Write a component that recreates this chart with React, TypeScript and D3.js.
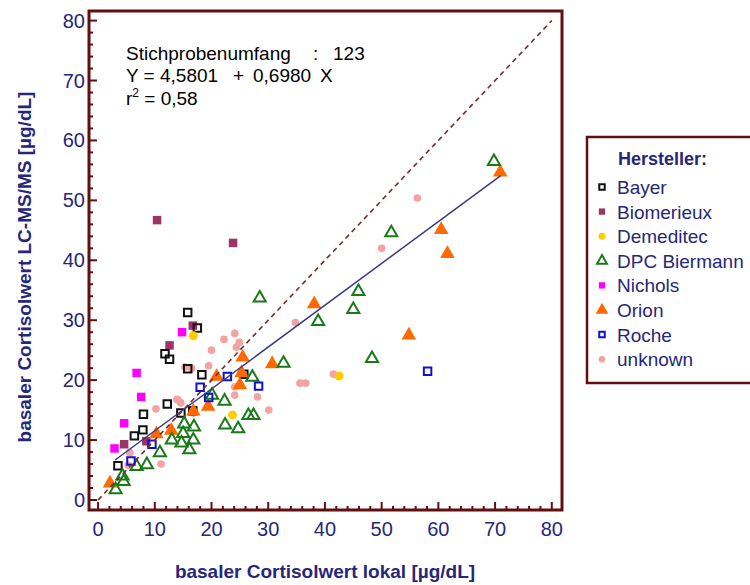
import React from 'react';
import * as d3 from 'd3';

const W = 750;
const H = 585;

// ---- data (x = basaler Cortisolwert lokal, y = LC-MS/MS) ----
const unknown: [number, number][] = [
  [56.3, 50.4], [50.0, 42.0], [34.8, 29.6], [41.5, 21.0], [35.6, 19.5], [36.6, 19.5],
  [30.1, 15.0], [28.1, 17.2], [24.1, 27.8], [22.2, 26.8], [24.9, 26.3], [24.4, 25.5],
  [20.0, 25.0], [19.5, 22.4], [15.3, 22.2], [16.5, 22.0], [24.1, 17.5], [13.9, 16.8],
  [14.6, 16.2], [10.2, 15.2], [11.1, 6.0], [5.6, 7.9], [5.3, 5.8], [16.8, 14.5],
  [24.1, 18.9], [14.1, 16.7],
];
const biomerieux: [number, number][] = [
  [10.4, 46.7], [23.8, 42.9], [16.7, 29.1], [12.6, 25.8], [4.6, 9.3], [8.5, 9.8],
];
const bayer: [number, number][] = [
  [15.8, 31.3], [17.5, 28.7], [11.8, 24.4], [12.6, 23.5], [15.8, 21.9], [18.3, 20.9],
  [25.7, 21.0], [12.2, 16.0], [14.6, 14.5], [16.7, 14.9], [8.0, 14.3], [7.9, 11.7],
  [6.4, 10.7], [3.5, 5.7],
];
const nichols: [number, number][] = [
  [14.8, 28.0], [6.8, 21.2], [7.6, 17.2], [4.6, 12.8], [2.9, 8.6],
];
const demeditec: [number, number][] = [
  [16.8, 27.4], [23.7, 14.2], [42.5, 20.7],
];
const orion: [number, number][] = [
  [70.9, 54.7], [60.5, 45.1], [61.6, 41.1], [54.8, 27.5], [38.1, 32.7], [30.7, 22.7],
  [25.5, 23.8], [25.3, 21.2], [25.0, 19.2], [20.9, 20.6], [19.4, 15.6], [16.8, 14.8],
  [12.9, 11.6], [10.3, 11.0], [2.1, 2.8],
];
const dpc: [number, number][] = [
  [69.8, 56.5], [51.7, 44.6], [45.9, 34.8], [45.0, 31.8], [38.8, 29.8], [48.3, 23.6],
  [28.5, 33.7], [32.7, 22.8], [27.2, 20.5], [20.1, 17.5], [22.3, 16.5], [26.5, 14.1],
  [27.4, 14.1], [22.4, 12.5], [24.7, 11.9], [15.2, 12.7], [16.9, 12.2], [15.0, 11.1],
  [16.8, 10.0], [14.7, 9.5], [16.1, 8.4], [13.0, 10.0], [10.9, 7.9], [8.6, 5.9],
  [6.8, 5.6], [4.3, 4.0], [4.5, 3.1], [3.1, 1.7],
];
const roche: [number, number][] = [
  [58.1, 21.5], [22.8, 20.6], [28.3, 19.0], [18.0, 18.8], [19.5, 17.1], [9.5, 9.3],
  [5.8, 6.5],
];

const legendNames = ['Bayer', 'Biomerieux', 'Demeditec', 'DPC Biermann', 'Nichols', 'Orion', 'Roche', 'unknown'];
const xTicks = [0, 10, 20, 30, 40, 50, 60, 70, 80];
const yTicks = [0, 10, 20, 30, 40, 50, 60, 70, 80];
const minorTicks = d3.range(0, 81, 2);

const regIntercept = 4.5801;
const regSlope = 0.698;
const regRange = [3, 71];
const identityRange = [0, 80];

// ---- styles ----
const NAVY = '#27277a';
const FRAME = '#620f12';

type Style = { shape: d3.SymbolType; size: number; fill: string; stroke: string; sw: number; lsize: number };
const styles: Record<string, Style> = {
  Bayer: { shape: d3.symbolSquare, size: 56, fill: 'none', stroke: '#111', sw: 2, lsize: 30 },
  Biomerieux: { shape: d3.symbolSquare, size: 72, fill: '#9b3565', stroke: 'none', sw: 0, lsize: 40 },
  Demeditec: { shape: d3.symbolCircle, size: 64, fill: '#ffcc00', stroke: 'none', sw: 0, lsize: 40 },
  'DPC Biermann': { shape: d3.symbolTriangle, size: 64, fill: 'none', stroke: '#1a7a1a', sw: 2, lsize: 42 },
  Nichols: { shape: d3.symbolSquare, size: 72, fill: '#ff00ff', stroke: 'none', sw: 0, lsize: 40 },
  Orion: { shape: d3.symbolTriangle, size: 92, fill: '#ff6a00', stroke: 'none', sw: 0, lsize: 70 },
  Roche: { shape: d3.symbolSquare, size: 56, fill: 'none', stroke: '#1010d0', sw: 2, lsize: 30 },
  unknown: { shape: d3.symbolCircle, size: 46, fill: '#f4a3a3', stroke: 'none', sw: 0, lsize: 34 },
};

const drawOrder: [string, [number, number][]][] = [
  ['unknown', unknown],
  ['Biomerieux', biomerieux],
  ['Bayer', bayer],
  ['Nichols', nichols],
  ['Demeditec', demeditec],
  ['Orion', orion],
  ['DPC Biermann', dpc],
  ['Roche', roche],
];

export default function App() {
  const left = 89, right = 562, top = 11, bottom = 510;
  const x = d3.scaleLinear().domain([-1.6, 81.8]).range([left, right]);
  const y = d3.scaleLinear().domain([-1.67, 81.6]).range([bottom, top]);
  const line = d3.line<number>().x((d) => x(d)).y((d) => y(regIntercept + regSlope * d));
  const idLine = d3.line<number>().x((d) => x(d)).y((d) => y(d));

  const font = 'Arial, "Liberation Sans", Helvetica, sans-serif';
  const legX = 587, legY = 137;

  return (
    <svg width={W} height={H} style={{ position: 'absolute', left: 0, top: 0, background: '#fff' }} fontFamily={font}>
      {/* ticks */}
      {minorTicks.map((t) => {
        const major = t % 10 === 0;
        const len = major ? 8 : 4;
        return (
          <g key={'t' + t}>
            <line x1={x(t)} x2={x(t)} y1={bottom} y2={bottom - len} stroke={FRAME} strokeWidth={2} />
            <line x1={left} x2={left + len} y1={y(t)} y2={y(t)} stroke={FRAME} strokeWidth={2} />
          </g>
        );
      })}
      {/* tick labels */}
      {xTicks.map((t) => (
        <text key={'xl' + t} x={x(t)} y={536} textAnchor="middle" fontSize={20} fill={NAVY}>{t}</text>
      ))}
      {yTicks.map((t) => (
        <text key={'yl' + t} x={85} y={y(t) + 7} textAnchor="end" fontSize={20} fill={NAVY}>{t}</text>
      ))}
      {/* axis titles */}
      <text x={325} y={578} textAnchor="middle" fontSize={19} fontWeight="bold" fill={NAVY}>
        basaler Cortisolwert lokal [µg/dL]
      </text>
      <text transform="translate(31,267) rotate(-90)" textAnchor="middle" fontSize={19} fontWeight="bold" fill={NAVY}>
        basaler Cortisolwert LC-MS/MS [µg/dL]
      </text>

      {/* markers */}
      {drawOrder.map(([name, data]) => {
        const s = styles[name];
        const p = d3.symbol().type(s.shape).size(s.size)()!;
        return (
          <g key={name}>
            {data.map((d, i) => (
              <path key={i} d={p} transform={`translate(${x(d[0])},${y(d[1])})`} fill={s.fill} stroke={s.stroke} strokeWidth={s.sw} />
            ))}
          </g>
        );
      })}

      {/* identity line & regression */}
      <path d={idLine(identityRange)!} stroke="#7a2a2a" strokeWidth={1.6} strokeDasharray="5,4" fill="none" />
      <path d={line(regRange)!} stroke="#3a3a85" strokeWidth={1.5} fill="none" />

      {/* frame */}
      <rect x={left} y={top} width={right - left} height={bottom - top} fill="none" stroke={FRAME} strokeWidth={3} />

      {/* annotation */}
      <g fontSize={19} fill="#000">
        <text x={126} y={60}>Stichprobenumfang</text>
        <text x={313} y={60}>:</text>
        <text x={333} y={60}>123</text>
        <text x={126} y={82}>Y = 4,5801</text>
        <text x={233} y={82}>+</text>
        <text x={253} y={82}>0,6980</text>
        <text x={320} y={82}>X</text>
        <text x={126} y={105}>r<tspan fontSize={12} dy={-8}>2</tspan><tspan dy={8}> = 0,58</tspan></text>
      </g>

      {/* legend */}
      <rect x={legX} y={legY} width={200} height={246} fill="#fff" stroke={FRAME} strokeWidth={2.5} />
      <text x={618} y={165} fontSize={18} fontWeight="bold" fill={NAVY}>Hersteller:</text>
      {legendNames.map((n, i) => {
        const s = styles[n];
        const cy = 187 + i * 24.6;
        const p = d3.symbol().type(s.shape).size(s.lsize)()!;
        return (
          <g key={n}>
            <path d={p} transform={`translate(602,${cy})`} fill={s.fill} stroke={s.stroke} strokeWidth={s.sw} />
            <text x={617} y={cy + 7} fontSize={19} fill={NAVY}>{n}</text>
          </g>
        );
      })}
    </svg>
  );
}
